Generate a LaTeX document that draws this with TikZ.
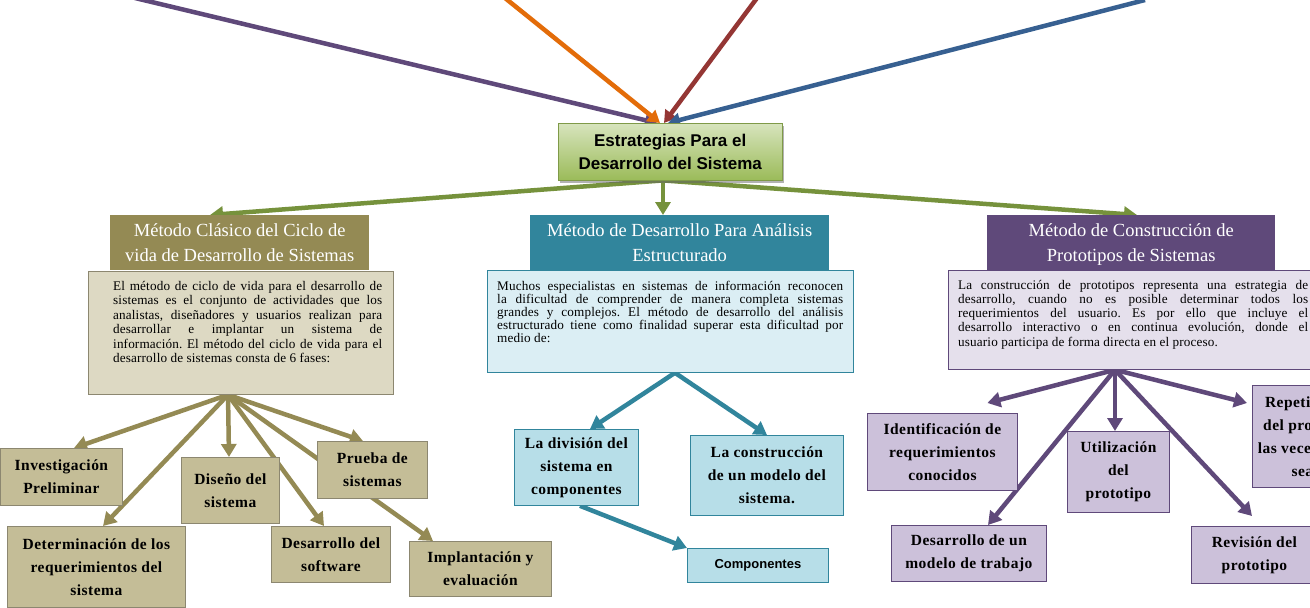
\documentclass[tikz,border=0pt]{standalone}
\usepackage{fontspec}
\setmainfont{Liberation Serif}
\newfontfamily\hdfont{Liberation Serif}
\newfontfamily\descfont[LetterSpace=1]{Liberation Serif}
\newfontfamily\chfont[LetterSpace=3]{Liberation Serif}
\newfontfamily\sansfnt{Liberation Sans}
\usetikzlibrary{arrows.meta,shadows,calc}
\pgfdeclarelayer{back}
\pgfdeclarelayer{bg}
\pgfsetlayers{back,bg,main}
\definecolor{cPurple}{HTML}{5F497A}
\definecolor{cOrange}{HTML}{E36C09}
\definecolor{cRed}{HTML}{943634}
\definecolor{cBlue}{HTML}{376091}
\definecolor{cGreen}{HTML}{76923C}
\definecolor{cGreenT}{HTML}{D7E4BD}
\definecolor{cGreenB}{HTML}{9BBB59}
\definecolor{cGreenD}{HTML}{7F9A48}
\definecolor{cOlive}{HTML}{948A54}
\definecolor{cOliveBd}{HTML}{8C8770}
\definecolor{cTanL}{HTML}{DDD9C3}
\definecolor{cTan}{HTML}{C4BD97}
\definecolor{cTeal}{HTML}{31859C}
\definecolor{cBlueL}{HTML}{DBEEF4}
\definecolor{cBlueM}{HTML}{B7DEE8}
\definecolor{cLavL}{HTML}{E5E0EC}
\definecolor{cLav}{HTML}{CCC1DA}
\frenchspacing
\newcommand\jline[1]{\hbox to\hsize{#1}}
\newcommand\lastline[1]{\hbox to\hsize{#1\hfil}}
\tikzset{
 hd/.style={fill=#1, text=white, inner sep=0pt, anchor=north west, align=center, text depth=0pt, font=\hdfont\fontsize{18.5}{25}\selectfont},
 descbox/.style 2 args={draw=#1, fill=#2, line width=0.8pt, inner sep=0pt, anchor=north west},
 desctext/.style={anchor=base west, inner sep=0pt, font=\descfont\fontsize{13.2}{#1}\selectfont},
 child/.style 2 args={draw=#1, fill=#2, line width=0.8pt, inner sep=0pt, anchor=north west, align=center, font=\chfont\bfseries\fontsize{15.5}{23}\selectfont},
 arr/.style={draw=#1, line width=4.5pt, -{Triangle[width=15pt,length=13pt]}},
 toparr/.style={draw=#1, line width=4.5pt, -{Triangle[width=14pt,length=12pt]}},
 ctrbox/.style={draw=cGreenD, top color=cGreenT, bottom color=cGreenB, inner sep=0pt, anchor=north west, align=center,
   font=\sansfnt\bfseries\fontsize{17}{23}\selectfont,
   drop shadow={shadow xshift=1.5pt, shadow yshift=-2.5pt, opacity=0.5, fill=black!60}},
}
\begin{document}
\begin{tikzpicture}[x=1pt,y=-1pt]
\useasboundingbox (0,0) rectangle (1310,608);
\begin{pgfonlayer}{back}
\fill[white] (0,0) rectangle (1310,608);
\end{pgfonlayer}
\clip (0,0) rectangle (1310,608);

% central node
\node[ctrbox, minimum width=224, minimum height=57] (ctr) at (558,123) {Estrategias Para el\\Desarrollo del Sistema};

% headers
\node[hd=cOlive, minimum width=259, minimum height=55] (lhead) at (110,215) {Método Clásico del Ciclo de\\vida de Desarrollo de Sistemas};
\node[hd=cTeal, minimum width=299, minimum height=55] (chead) at (530,215) {Método de Desarrollo Para Análisis\\Estructurado};
\node[hd=cPurple, minimum width=288, minimum height=55] (rhead) at (987,215) {Método de Construcción de\\Prototipos de Sistemas};

% description boxes
\node[descbox={cOliveBd}{cTanL}, minimum width=305, minimum height=123] (ldesc) at (88,271) {};
\node[descbox={cTeal}{cBlueL}, minimum width=366, minimum height=102] (cdesc) at (487,270) {};
\node[descbox={cPurple}{cLavL}, minimum width=372, minimum height=99] (rdesc) at (948,270) {};

\node[desctext=14.5] (ltext) at (113,290) {\vtop{\hsize=269pt
 \jline{El método de ciclo de vida para el desarrollo de}
 \jline{sistemas es el conjunto de actividades que los}
 \jline{analistas, diseñadores y usuarios realizan para}
 \jline{desarrollar e implantar un sistema de}
 \jline{información. El método del ciclo de vida para el}
 \lastline{desarrollo de sistemas consta de 6 fases:}}};
\node[desctext=13] (ctext) at (497,290) {\vtop{\hsize=346pt
 \jline{Muchos especialistas en sistemas de información reconocen}
 \jline{la dificultad de comprender de manera completa sistemas}
 \jline{grandes y complejos. El método de desarrollo del análisis}
 \jline{estructurado tiene como finalidad superar esta dificultad por}
 \lastline{medio de:}}};
\node[desctext=14.3] (rtext) at (958,289) {\vtop{\hsize=350pt
 \jline{La construcción de prototipos representa una estrategia de}
 \jline{desarrollo, cuando no es posible determinar todos los}
 \jline{requerimientos del usuario. Es por ello que incluye el}
 \jline{desarrollo interactivo o en continua evolución, donde el}
 \lastline{usuario participa de forma directa en el proceso.}}};

% left children
\node[child={cOliveBd}{cTan}, minimum width=122, minimum height=57] (inv) at (0,448) {Investigación\\Preliminar};
\node[child={cOliveBd}{cTan}, minimum width=98, minimum height=66] (dis) at (181,457) {Diseño del\\sistema};
\node[child={cOliveBd}{cTan}, minimum width=110, minimum height=57] (pru) at (317,441) {Prueba de\\sistemas};
\node[child={cOliveBd}{cTan}, minimum width=178, minimum height=81] (det) at (7,526) {Determinación de los\\requerimientos del\\sistema};
\node[child={cOliveBd}{cTan}, minimum width=119, minimum height=56] (dsw) at (271,526) {Desarrollo del\\software};
\node[child={cOliveBd}{cTan}, minimum width=142, minimum height=55] (imp) at (409,541) {Implantación y\\evaluación};

% center children
\node[child={cTeal}{cBlueM}, minimum width=124, minimum height=76] (div) at (514,429) {La división del\\sistema en\\componentes};
\node[child={cTeal}{cBlueM}, minimum width=153, minimum height=80] (con) at (690,435) {La construcción\\de un modelo del\\sistema.};
\node[child={cTeal}{cBlueM}, minimum width=141, minimum height=34, font=\sansfnt\bfseries\fontsize{13}{15}\selectfont] (comp) at (687,548) {Componentes};

% right children
\node[child={cPurple}{cLav}, minimum width=150, minimum height=77] (ide) at (867,413) {Identificación de\\requerimientos\\conocidos};
\node[child={cPurple}{cLav}, minimum width=102, minimum height=81] (uti) at (1067,431) {Utilización\\del\\prototipo};
\node[child={cPurple}{cLav}, minimum width=155, minimum height=56] (dmt) at (891,525) {Desarrollo de un\\modelo de trabajo};
\node[child={cPurple}{cLav}, minimum width=126, minimum height=57] (rev) at (1191,526) {Revisión del\\prototipo};
\node[child={cPurple}{cLav}, minimum width=100, minimum height=102] (rep) at (1252,385) {Repetición\\del proceso\\las veces que\\sea};

% connectors
\begin{pgfonlayer}{bg}
\coordinate (t1) at (135,-2);
\coordinate (t2) at (505,-2);
\coordinate (t3) at (757,-2);
\coordinate (t4) at (1145,0);
\draw[toparr=cPurple] (t1) -- (ctr.north -| 657,0);
\draw[toparr=cOrange] (t2) -- (ctr.north -| 660,0);
\draw[toparr=cRed] (t3) -- (ctr.north -| 664,0);
\draw[toparr=cBlue] (t4) -- (ctr.north -| 668,0);

\coordinate (gs) at (ctr.south -| 663,0);
\draw[arr=cGreen] (gs) -- (lhead.north -| 210,0);
\draw[arr=cGreen] (gs) -- (chead.north -| 663,0);
\draw[arr=cGreen] (gs) -- (rhead.north -| 1137,0);

\coordinate (lf) at (ldesc.south -| 228,0);
\draw[arr=cOlive] (lf) -- (inv.north -| 74,0);
\draw[arr=cOlive] (lf) -- (det.north -| 103,0);
\draw[arr=cOlive] (lf) -- (dis.north -| 229,0);
\draw[arr=cOlive] (lf) -- (dsw.north -| 324,0);
\draw[arr=cOlive] (lf) -- (pru.north -| 363,0);
\draw[arr=cOlive] (lf) -- (imp.north -| 433,0);

\coordinate (cf) at (cdesc.south -| 675,0);
\draw[arr=cTeal] (cf) -- (div.north -| 590,0);
\draw[arr=cTeal] (cf) -- (con.north -| 767,0);
\draw[arr=cTeal] (div.south -| 580,0) -- (comp.north west);

\coordinate (rf) at (rdesc.south -| 1115,0);
\draw[arr=cPurple] (rf) -- ($(ide.north)+(45,-10)$);
\draw[arr=cPurple] (rf) -- (uti.north -| rf);
\draw[arr=cPurple] (rf) -- (dmt.north -| 988,0);
\draw[arr=cPurple] (rf) -- ($(rev.north west)+(61,-10)$);
\draw[arr=cPurple] (rf) -- ($(rep.north west)+(-5,18)$);
\end{pgfonlayer}
\end{tikzpicture}
\end{document}
